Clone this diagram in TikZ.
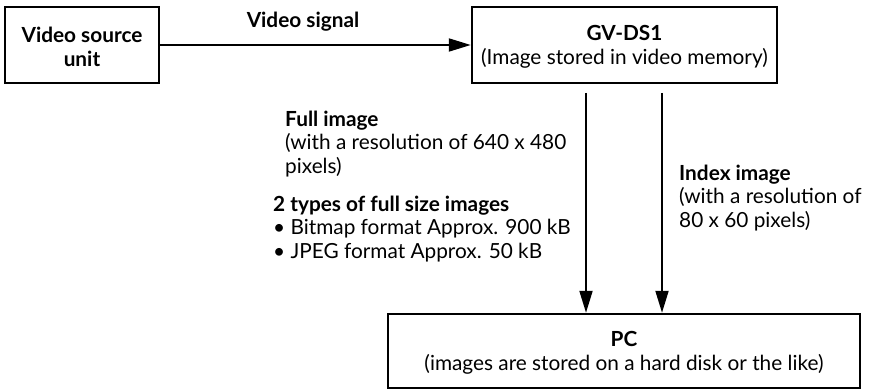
\documentclass[tikz,border=0pt]{standalone}
\usepackage{fontspec}
\setmainfont{Lato}
\usetikzlibrary{arrows.meta}
\tikzset{
  box/.style={draw=black, line width=2.5pt, inner sep=0pt, align=center},
  conn/.style={line width=2pt, -{Triangle[length=22pt,width=13pt]}},
  lbl/.style={inner sep=0pt, align=left, anchor=west},
}
\begin{document}
\begin{tikzpicture}[x=1pt,y=-1pt, every node/.style={font=\fontsize{20.8}{23.5}\selectfont}]
\useasboundingbox (0,0) rectangle (877,390);
\node[box, minimum width=154pt, minimum height=76pt] (vs) at (82,45) {\rule{0pt}{19pt}\textbf{Video source}\\\textbf{unit}};
\node[box, minimum width=305pt, minimum height=76pt] (gv) at (624.5,45) {\rule{0pt}{19pt}\textbf{GV-DS1}\\(Image stored in video memory)};
\node[box, minimum width=472pt, minimum height=74pt] (pc) at (624,351) {\rule{0pt}{19pt}\textbf{PC}\\(images are stored on a hard disk or the like)};
\node[inner sep=0pt] (sig) at (303,22) {\textbf{Video signal}};
\draw[conn] (vs.east) -- (gv.west);
\coordinate (a1) at (586,93);
\coordinate (a2) at (662,93);
\draw[conn] (a1) -- (a1 |- pc.north);
\draw[conn] (a2) -- (a2 |- pc.north);
\node[lbl] (full) at (285,144) {\textbf{Full image}\\(with a resolution of 640 x 480\\pixels)};
\node[lbl] (types) at (273,229) {\textbf{2 types of full size images}\\\textbullet\ Bitmap format Approx. 900 kB\\\textbullet\ JPEG format Approx. 50 kB};
\node[lbl] (idx) at (679,198) {\textbf{Index image}\\(with a resolution of\\80 x 60 pixels)};
\end{tikzpicture}
\end{document}
